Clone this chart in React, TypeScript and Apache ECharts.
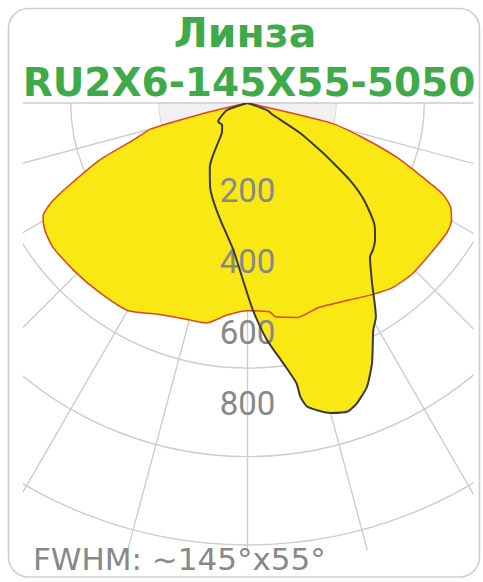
import React, { useEffect, useRef } from "react";
import * as echarts from "echarts";

const titleLine1 = "Линза";
const titleLine2 = "RU2X6-145X55-5050";
const footerText = "FWHM: ~145°x55°";

// radial tick labels printed down the vertical axis
const radiusTickLabels = [200, 400, 600, 800];

// C0-C180 plane (yellow fill, red outline): angle (deg, 0 = nadir, + = right) and intensity
const c0Angles = [-90, -78, -76.5, -75, -72, -69, -65, -63, -61, -58, -53.5, -46, -38, -30, -22.5, -15, -10.5, -5.5, 0, 6, 7.5, 13, 19, 27.5, 33, 38, 44, 51.5, 57, 60, 63, 65, 67, 70, 73.5, 76.5, 78, 90];
const c0Values = [0, 20, 113, 226, 272, 357, 450, 500, 529, 541, 548, 546, 544, 542, 518, 508, 506, 482, 470, 475, 488, 498, 490, 502, 517, 531, 537, 536, 538, 533, 515, 487, 431, 360, 267, 195, 20, 0];

// C90-C270 plane (yellow fill, dark outline)
const c90Angles = [-90, -71, -61.5, -57, -49, -41.5, -36, -33.5, -30.5, -24, -19.5, -13, -5.5, -1.5, 1.5, 4.7, 7.8, 9.9, 10.2, 11.2, 15, 18, 20, 22.8, 25.6, 29, 31, 34.7, 38.5, 40.5, 43, 46, 50.2, 53, 55.5, 56.5, 60.3, 65, 70, 90];
const c90Values = [0, 49, 71, 79, 76, 87, 117, 141, 168, 208, 233, 272, 334, 400, 469, 538, 594, 643, 675, 701, 726, 734, 723, 697, 652, 587, 564, 495, 445, 437, 423, 400, 343, 290, 227, 205, 137, 64, 47, 0];

const W = 483;
const H = 582;
const CX = 247.5;
const CY = 103;
const PX_PER_UNIT = 0.442;
const R_MAX_VALUE = 1080;

const YELLOW = "#f9e814";
const RED = "#e4441e";
const DARK = "#3a3a3a";
const GRID = "#cdcdcd";
const GREEN = "#3eaa49";
const GREY_TEXT = "#888888";

export default function App() {
  const ref = useRef<HTMLDivElement>(null);

  useEffect(() => {
    if (!ref.current) return;
    const chart = echarts.init(ref.current, undefined, { renderer: "svg" });

    const c0Data = c0Angles.map((a, i) => [c0Values[i], a]);
    const c90Data = c90Angles.map((a, i) => [c90Values[i], a]);

    const labelEls = radiusTickLabels.map((v) => ({
      type: "text",
      z: 3,
      x: CX,
      y: CY + 87 + (v - radiusTickLabels[0]) * 0.355,
      style: {
        text: String(v),
        fill: GREY_TEXT,
        font: "33px Roboto",
        textAlign: "center",
        textVerticalAlign: "middle",
      },
    }));

    const option: any = {
      animation: false,
      polar: {
        center: [CX, CY],
        radius: R_MAX_VALUE * PX_PER_UNIT,
      },
      angleAxis: {
        type: "value",
        min: -90,
        max: 90,
        interval: 15,
        startAngle: 180,
        endAngle: 360,
        clockwise: false,
        axisLine: { show: false },
        axisTick: { show: false },
        axisLabel: { show: false },
        splitLine: { show: true, lineStyle: { color: GRID, width: 1.4 } },
      },
      radiusAxis: {
        type: "value",
        min: 0,
        max: R_MAX_VALUE,
        interval: 200,
        axisLine: { show: false },
        axisTick: { show: false },
        axisLabel: { show: false },
        splitLine: {
          show: true,
          lineStyle: { color: [GRID, GRID, GRID, GRID, GRID, GRID, "rgba(0,0,0,0)"], width: 1.4 },
        },
        splitArea: {
          show: true,
          areaStyle: { color: ["#f1f1f1", "rgba(255,255,255,0)", "rgba(255,255,255,0)", "rgba(255,255,255,0)", "rgba(255,255,255,0)", "rgba(255,255,255,0)"] },
        },
      },
      series: [
        {
          type: "line",
          coordinateSystem: "polar",
          data: c0Data,
          symbol: "none",
          smooth: 0.2,
          z: 1,
          lineStyle: { width: 0, opacity: 0 },
          areaStyle: { color: YELLOW, opacity: 1 },
        },
        {
          type: "line",
          coordinateSystem: "polar",
          data: c90Data,
          symbol: "none",
          smooth: 0.2,
          z: 1,
          lineStyle: { width: 0, opacity: 0 },
          areaStyle: { color: YELLOW, opacity: 1 },
        },
        {
          type: "line",
          coordinateSystem: "polar",
          data: c0Data,
          symbol: "none",
          smooth: 0.2,
          z: 5,
          lineStyle: { color: RED, width: 1.5 },
        },
        {
          type: "line",
          coordinateSystem: "polar",
          data: c90Data,
          symbol: "none",
          smooth: 0.2,
          z: 5,
          lineStyle: { color: DARK, width: 2 },
        },
      ],
      graphic: [
        ...labelEls,
        // clip the polar grid to its square
        { type: "rect", z: 10, shape: { x: 120, y: 12, width: 250, height: 90 }, style: { fill: "#fff" } },
        { type: "rect", z: 10, shape: { x: 0, y: 98, width: 23, height: 484 }, style: { fill: "#fff" } },
        { type: "rect", z: 10, shape: { x: 473.5, y: 98, width: 9.5, height: 484 }, style: { fill: "#fff" } },
        { type: "rect", z: 10, shape: { x: 0, y: 550.5, width: 483, height: 31.5 }, style: { fill: "#fff" } },
        {
          type: "rect",
          z: 11,
          shape: { x: 8.5, y: 8.5, width: 471, height: 568.5, r: 20 },
          style: { fill: "none", stroke: "#cfcfcf", lineWidth: 1.6 },
        },
        {
          type: "text",
          z: 11,
          x: 245,
          y: 33,
          style: {
            text: titleLine1,
            fill: GREEN,
            font: "bold 41px 'DejaVu Sans'",
            textAlign: "center",
            textVerticalAlign: "middle",
          },
        },
        {
          type: "text",
          z: 11,
          x: 249,
          y: 82.5,
          style: {
            text: titleLine2,
            fill: GREEN,
            font: "bold 39px 'DejaVu Sans'",
            textAlign: "center",
            textVerticalAlign: "middle",
          },
        },
        {
          type: "text",
          z: 11,
          x: 33,
          y: 559,
          style: {
            text: footerText,
            fill: GREY_TEXT,
            font: "31px 'DejaVu Sans'",
            textAlign: "left",
            textVerticalAlign: "middle",
          },
        },
      ],
    };

    chart.setOption(option);
    return () => chart.dispose();
  }, []);

  return (
    <div
      ref={ref}
      style={{ position: "absolute", left: 0, top: 0, width: W, height: H, background: "#fff" }}
    />
  );
}
